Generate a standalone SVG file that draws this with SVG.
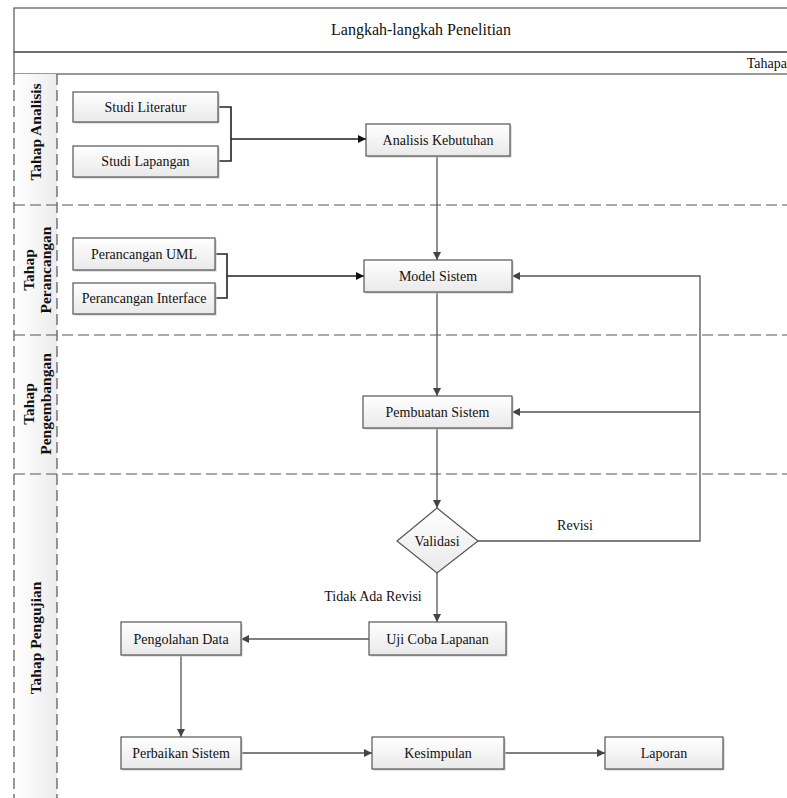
<svg xmlns="http://www.w3.org/2000/svg" width="787" height="798" viewBox="0 0 787 798">
<defs>
<linearGradient id="boxg" x1="0" y1="0" x2="0" y2="1"><stop offset="0" stop-color="#ffffff"/><stop offset="1" stop-color="#e9e9e9"/></linearGradient>
<linearGradient id="bandg" x1="0" y1="0" x2="0" y2="1"><stop offset="0" stop-color="#fbfbfb"/><stop offset="1" stop-color="#eeeeee"/></linearGradient>
<linearGradient id="laneg" x1="0" y1="0" x2="1" y2="0"><stop offset="0" stop-color="#ffffff"/><stop offset="1" stop-color="#ececec"/></linearGradient>
<marker id="arr" viewBox="0 0 10 10" refX="10" refY="5" markerWidth="8" markerHeight="8" markerUnits="userSpaceOnUse" orient="auto"><path d="M0,0 L10,5 L0,10 z" fill="#444"/></marker>
<marker id="arrk" viewBox="0 0 10 10" refX="10" refY="5" markerWidth="8" markerHeight="8" markerUnits="userSpaceOnUse" orient="auto"><path d="M0,0 L10,5 L0,10 z" fill="#111"/></marker>
</defs>
<style>
.box{fill:url(#boxg);stroke:#555;stroke-width:1.2}
.sh{fill:#c8c8c8}
.t{font-family:"Liberation Serif","Times New Roman",serif;font-size:14px;fill:#111;text-anchor:middle}
.lt{font-family:"Liberation Serif","Times New Roman",serif;font-size:15.5px;font-weight:bold;fill:#111;text-anchor:middle}
.dash{stroke:#555;stroke-width:1.2;stroke-dasharray:11 5;fill:none}
.solid{stroke:#555;stroke-width:1.2;fill:none}
.c{stroke:#555;stroke-width:1.3;fill:none}
.ck{stroke:#222;stroke-width:1.6;fill:none}
</style>
<rect width="787" height="798" fill="#ffffff"/>
<g id="frame">
<rect x="14" y="8" width="790" height="44" fill="url(#bandg)" class="solid"/>
<rect x="14" y="52" width="790" height="22" fill="url(#bandg)" class="solid"/>
<text class="t" x="421" y="35" style="font-size:16px">Langkah-langkah Penelitian</text>
<text class="t" x="787" y="68" style="text-anchor:end">Tahapa</text>
<rect x="14" y="74" width="43" height="724" fill="url(#laneg)"/>
<line class="dash" x1="14" y1="74" x2="14" y2="798"/>
<line class="dash" x1="57" y1="74" x2="57" y2="798"/>
<line class="dash" x1="14" y1="205" x2="787" y2="205"/>
<line class="dash" x1="14" y1="335" x2="787" y2="335"/>
<line class="dash" x1="14" y1="474" x2="787" y2="474"/>
</g>
<g id="lane-analisis"><text class="lt" transform="translate(41,132) rotate(-90)">Tahap Analisis</text></g>
<g id="lane-perancangan"><text class="lt" transform="translate(34,270) rotate(-90)">Tahap</text><text class="lt" transform="translate(51,270) rotate(-90)">Perancangan</text></g>
<g id="lane-pengembangan"><text class="lt" transform="translate(34,404) rotate(-90)">Tahap</text><text class="lt" transform="translate(51,404) rotate(-90)">Pengembangan</text></g>
<g id="lane-pengujian"><text class="lt" transform="translate(41,638) rotate(-90)">Tahap Pengujian</text></g>

<g id="connectors">
<polyline class="ck" points="218,107 231,107 231,161 218,161"/>
<line class="ck" x1="231" y1="139" x2="366" y2="139" marker-end="url(#arrk)"/>
<polyline class="ck" points="215,254 227,254 227,298 215,298"/>
<line class="ck" x1="227" y1="276" x2="364" y2="276" marker-end="url(#arrk)"/>
<line class="c" x1="437" y1="156" x2="437" y2="260" marker-end="url(#arr)"/>
<line class="c" x1="437" y1="292" x2="437" y2="396" marker-end="url(#arr)"/>
<line class="c" x1="437" y1="428" x2="437" y2="508" marker-end="url(#arr)"/>
<line class="c" x1="437" y1="573" x2="437" y2="622" marker-end="url(#arr)"/>
<polyline class="c" points="478,541 700,541 700,276 512,276" marker-end="url(#arr)"/>
<line class="c" x1="700" y1="412" x2="512" y2="412" marker-end="url(#arr)"/>
<line class="c" x1="369" y1="639" x2="241" y2="639" marker-end="url(#arr)"/>
<line class="c" x1="181" y1="655" x2="181" y2="737" marker-end="url(#arr)"/>
<line class="c" x1="241" y1="753" x2="372" y2="753" marker-end="url(#arr)"/>
<line class="c" x1="505" y1="753" x2="605" y2="753" marker-end="url(#arr)"/>
<text class="t" x="575" y="530">Revisi</text>
<text class="t" x="373" y="601">Tidak Ada Revisi</text>
</g>

<g id="studi-literatur"><rect class="sh" x="74.5" y="93.5" width="145" height="30"/><rect class="box" x="73" y="92" width="145" height="30"/><text class="t" x="145.5" y="112">Studi Literatur</text></g>
<g id="studi-lapangan"><rect class="sh" x="74.5" y="147.5" width="145" height="31"/><rect class="box" x="73" y="146" width="145" height="31"/><text class="t" x="145.5" y="166">Studi Lapangan</text></g>
<g id="analisis-kebutuhan"><rect class="sh" x="367.5" y="125.5" width="144" height="32"/><rect class="box" x="366" y="124" width="144" height="32"/><text class="t" x="438" y="145">Analisis Kebutuhan</text></g>
<g id="perancangan-uml"><rect class="sh" x="74.5" y="239.5" width="142" height="32"/><rect class="box" x="73" y="238" width="142" height="32"/><text class="t" x="144" y="259">Perancangan UML</text></g>
<g id="perancangan-interface"><rect class="sh" x="74.5" y="284.5" width="142" height="31"/><rect class="box" x="73" y="283" width="142" height="31"/><text class="t" x="144" y="303">Perancangan Interface</text></g>
<g id="model-sistem"><rect class="sh" x="365.5" y="261.5" width="148" height="32"/><rect class="box" x="364" y="260" width="148" height="32"/><text class="t" x="438" y="281">Model Sistem</text></g>
<g id="pembuatan-sistem"><rect class="sh" x="364.5" y="397.5" width="149" height="32"/><rect class="box" x="363" y="396" width="149" height="32"/><text class="t" x="437.5" y="417">Pembuatan Sistem</text></g>
<g id="validasi"><polygon points="437,508 478,541 437,573 397,541" fill="url(#boxg)" stroke="#555" stroke-width="1.2"/><text class="t" x="437" y="546">Validasi</text></g>
<g id="uji-coba"><rect class="sh" x="370.5" y="623.5" width="137" height="33"/><rect class="box" x="369" y="622" width="137" height="33"/><text class="t" x="437.5" y="644">Uji Coba Lapanan</text></g>
<g id="pengolahan-data"><rect class="sh" x="122.5" y="623.5" width="120" height="33"/><rect class="box" x="121" y="622" width="120" height="33"/><text class="t" x="181" y="644">Pengolahan Data</text></g>
<g id="perbaikan-sistem"><rect class="sh" x="122.5" y="738.5" width="120" height="32"/><rect class="box" x="121" y="737" width="120" height="32"/><text class="t" x="181" y="758">Perbaikan Sistem</text></g>
<g id="kesimpulan"><rect class="sh" x="373.5" y="738.5" width="132" height="32"/><rect class="box" x="372" y="737" width="132" height="32"/><text class="t" x="438" y="758">Kesimpulan</text></g>
<g id="laporan"><rect class="sh" x="606.5" y="738.5" width="118" height="32"/><rect class="box" x="605" y="737" width="118" height="32"/><text class="t" x="664" y="758">Laporan</text></g>
</svg>
